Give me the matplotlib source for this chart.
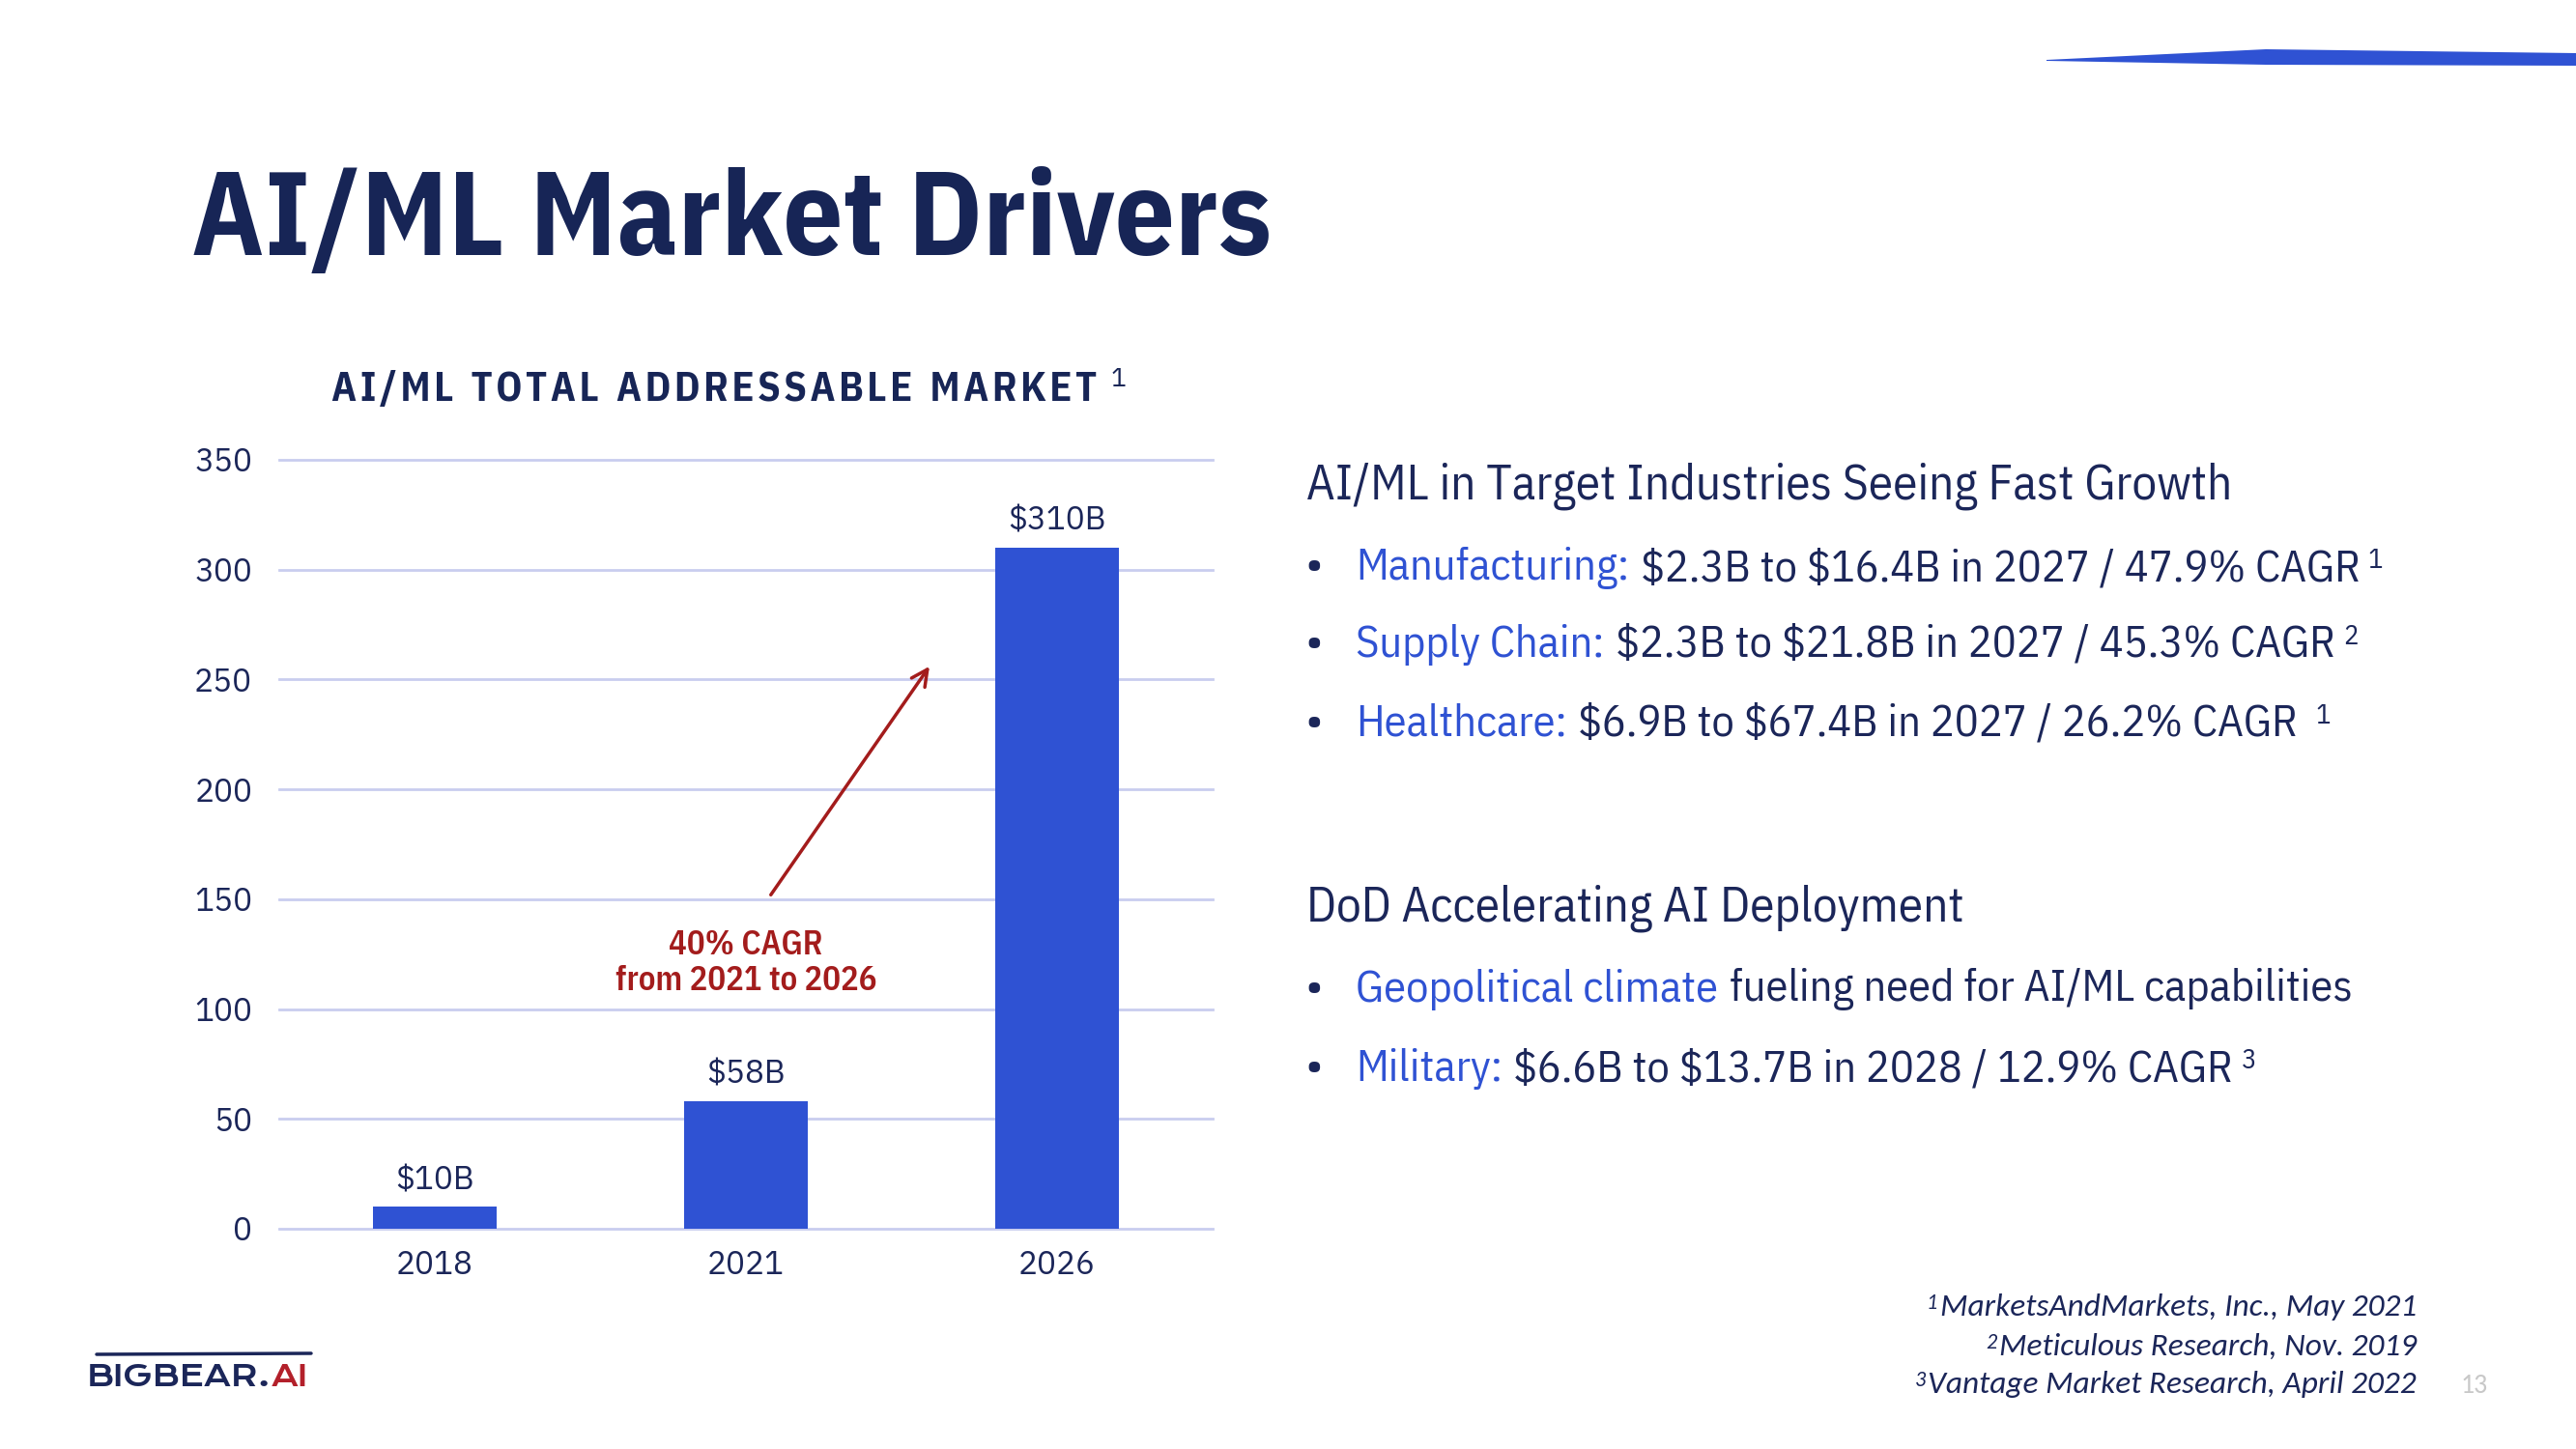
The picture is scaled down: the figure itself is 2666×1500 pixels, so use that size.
import numpy as np
import matplotlib
matplotlib.use('Agg')
import matplotlib.pyplot as plt
from matplotlib.patches import Polygon

# 数据
years = ['2018', '2021', '2026']
market = [10, 58, 310]
value_labels = ['$10B', '$58B', '$310B']
y_ticks = [0, 50, 100, 150, 200, 250, 300, 350]
cagr_text = '40% CAGR\nfrom 2021 to 2026'

industry_lines = [
    [('Manufacturing:', 'blue'), ('$2.3B to $16.4B in 2027 / 47.9% CAGR', 'navy')],
    [('Supply Chain:', 'blue'), ('$2.3B to $21.8B in 2027 / 45.3% CAGR', 'navy')],
    [('Healthcare:', 'blue'), ('$6.9B to $67.4B in 2027 / 26.2% CAGR ', 'navy')],
]
industry_sups = ['1', '2', '1']
dod_lines = [
    [('Geopolitical climate', 'blue'), ('fueling need for AI/ML capabilities', 'navy')],
    [('Military:', 'blue'), ('$6.6B to $13.7B in 2028 / 12.9% CAGR', 'navy')],
]
dod_sups = [None, '3']
footnotes = ['MarketsAndMarkets, Inc., May 2021', 'Meticulous Research, Nov. 2019',
             'Vantage Market Research, April 2022']

W, H = 2666, 1500
NAVY = '#1b2659'
TITLE = '#172556'
BLUE = '#2f52d3'
RED = '#a31c1c'
GRID = '#c9cdef'
COND = ['IBM Plex Sans Condensed', 'Liberation Sans', 'DejaVu Sans']
PLEX = ['IBM Plex Sans', 'Liberation Sans', 'DejaVu Sans']
NOTE = ['Carlito', 'Open Sans', 'DejaVu Sans']
LOGO = ['Krona One', 'Syncopate', 'Michroma', 'DejaVu Sans']
COL = {'blue': BLUE, 'navy': NAVY}

plt.rcParams['font.family'] = PLEX
plt.rcParams['text.parse_math'] = False  # 文本里有很多 $ 符号

fig = plt.figure(figsize=(26.66, 15), dpi=100)

# 背景层，用像素坐标
bg = fig.add_axes([0, 0, 1, 1])
bg.set_xlim(0, W)
bg.set_ylim(H, 0)
bg.axis('off')

# 右上角蓝色条
bg.add_patch(Polygon([(2118, 62), (2345, 51), (2666, 55), (2666, 68), (2345, 67), (2118, 63)],
                     closed=True, color=BLUE, lw=0))

# 大标题
bg.text(198, 264, 'AI/ML Market Drivers', fontsize=88, fontweight='bold', family=COND,
        color=TITLE, va='baseline')

# 图表标题（字母间加细空格）
chart_title = '  '.join('\u200a'.join(w) for w in 'AI/ML TOTAL ADDRESSABLE MARKET'.split())
t = bg.text(343, 415, chart_title, fontsize=30.5, fontweight='bold',
            family=COND, color=TITLE, va='baseline')
bg.annotate('1', xy=(1, 1), xycoords=t, xytext=(10, 2), textcoords='offset points',
            va='top', ha='left', fontsize=19, color=TITLE, family=PLEX)

# 柱状图
ax = fig.add_axes([289 / W, 1 - 1272 / H, 966 / W, 796 / H])
ax.set_facecolor('none')
bars = ax.bar(range(len(years)), market, width=0.4, color=BLUE, zorder=3)
ax.set_xlim(-0.5, 2.5)
ax.set_ylim(0, 350)
ax.set_yticks(y_ticks)
ax.set_xticks(range(len(years)), years)
ax.grid(axis='y', color=GRID, lw=2)
ax.set_axisbelow(True)
for line in ax.get_ygridlines():
    line.set_clip_on(False)
for s in ax.spines.values():
    s.set_visible(False)
ax.tick_params(length=0, labelsize=24, labelcolor=NAVY)
ax.tick_params(axis='y', pad=20)
ax.tick_params(axis='x', pad=16)
ax.bar_label(bars, labels=value_labels, padding=8, fontsize=24, color=NAVY)

# CAGR 箭头和文字
ax.annotate('', xy=(1.59, 256), xytext=(1.08, 152),
            arrowprops=dict(arrowstyle='->', color=RED, lw=2.5, mutation_scale=30,
                            shrinkA=0, shrinkB=0))
ax.text(1.0, 121, cagr_text, ha='center', va='center', color=RED, fontsize=25,
        fontweight='semibold', family=COND, linespacing=1.15)


def rich_line(x, y, parts, size, sup=None):
    t = bg.text(x, y, parts[0][0], color=COL[parts[0][1]], fontsize=size, family=COND,
                va='baseline')
    for s, c in parts[1:]:
        t = bg.annotate(s, xy=(1, 0), xycoords=t, xytext=(size * 0.25, 0),
                        textcoords='offset points', va='bottom', ha='left',
                        color=COL[c], fontsize=size, family=COND)
    if sup:
        bg.annotate(sup, xy=(1, 1), xycoords=t, xytext=(6, 0), textcoords='offset points',
                    va='top', ha='left', color=NAVY, fontsize=size * 0.62, family=COND)


# 右侧文字
bg.text(1352, 517, 'AI/ML in Target Industries Seeing Fast Growth', fontsize=36.8,
        family=COND, color=NAVY, va='baseline')
for yb, parts, sup in zip([600, 680, 762], industry_lines, industry_sups):
    bg.text(1350, yb, '•', fontsize=34, color=NAVY, va='baseline', family=PLEX)
    rich_line(1403, yb, parts, 33.4, sup)

bg.text(1352, 954, 'DoD Accelerating AI Deployment', fontsize=36.8,
        family=COND, color=NAVY, va='baseline')
for yb, parts, sup in zip([1037, 1119], dod_lines, dod_sups):
    bg.text(1350, yb, '•', fontsize=34, color=NAVY, va='baseline', family=PLEX)
    rich_line(1403, yb, parts, 33.4, sup)

# 脚注
for i, (yb, note) in enumerate(zip([1362, 1403, 1442], footnotes)):
    t = bg.text(2501, yb, note, fontsize=24, style='italic', family=NOTE, color=NAVY,
                ha='right', va='baseline')
    bg.annotate(str(i + 1), xy=(0, 1), xycoords=t, xytext=(-2, 0), textcoords='offset points',
                ha='right', va='top', fontsize=16, style='italic', family=NOTE, color=NAVY)

# 页码
bg.text(2561, 1442, '13', fontsize=20, color='#c8c8c8', ha='center', va='baseline', family=NOTE)

# 标志
bg.plot([100, 322], [1402, 1401], color=NAVY, lw=2.5, solid_capstyle='round')
t = bg.text(90, 1435, 'BIGBEAR.', fontsize=22, fontweight='bold', family=LOGO, color=NAVY,
            va='baseline')
bg.annotate('AI', xy=(1, 0), xycoords=t, va='bottom', ha='left', fontsize=22,
            fontweight='bold', family=LOGO, color='#b3202a')

fig.savefig('out.png', dpi=100, facecolor='white')
